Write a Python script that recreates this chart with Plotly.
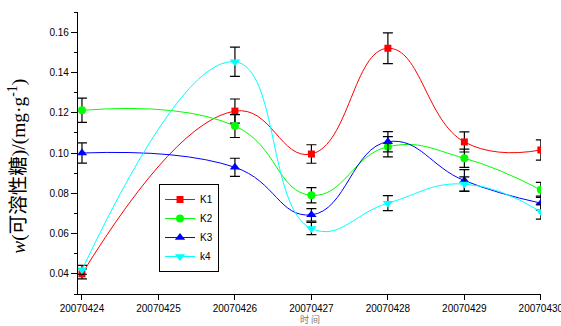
import plotly.graph_objects as go

# ---- data ----
dates = ["20070424", "20070425", "20070426", "20070427", "20070428", "20070429", "20070430"]
sample_dates = ["20070424", "20070426", "20070427", "20070428", "20070429", "20070430"]

k1 = [0.040, 0.1208, 0.0995, 0.1520, 0.1055, 0.1015]
k1_err = [0.0025, 0.0060, 0.0046, 0.0076, 0.0050, 0.0050]
k2 = [0.1212, 0.1134, 0.0790, 0.1031, 0.0974, 0.0817]
k2_err = [0.0060, 0.0057, 0.0038, 0.0050, 0.0045, 0.0037]
k3 = [0.1000, 0.0929, 0.0693, 0.1056, 0.0863, 0.0751]
k3_err = [0.0050, 0.0045, 0.0031, 0.0050, 0.0054, 0.0035]
k4 = [0.0420, 0.1453, 0.0625, 0.0751, 0.0846, 0.0709]
k4_err = [0.0022, 0.0073, 0.0030, 0.0037, 0.0035, 0.0037]

names = ["K1", "K2", "K3", "k4"]
values = [k1, k2, k3, k4]
errors = [k1_err, k2_err, k3_err, k4_err]
colors = ["#FF0000", "#00FF00", "#0000FF", "#00FFFF"]
symbols = ["square", "circle", "triangle-up", "triangle-down"]
msizes = [7, 8, 9, 9]

xpos = [dates.index(d) for d in sample_dates]

fig = go.Figure()
for name, v, e, c, s, ms in zip(names, values, errors, colors, symbols, msizes):
    fig.add_trace(go.Scatter(
        x=xpos, y=v, name=name, mode="lines+markers",
        line=dict(color=c, width=1, shape="spline", smoothing=1.3),
        marker=dict(symbol=s, size=ms, color=c),
        error_y=dict(type="data", array=e, visible=True, color="black",
                     thickness=1.2, width=5),
    ))

fig.update_layout(
    width=561, height=326,
    margin=dict(l=78, r=20, t=12, b=32, autoexpand=False),
    paper_bgcolor="white", plot_bgcolor="white",
    font=dict(family="Liberation Sans, Arial", size=10, color="black"),
    showlegend=True,
    legend=dict(x=0.175, y=0.39, xanchor="left", yanchor="top",
                bordercolor="black", borderwidth=1, bgcolor="white",
                font=dict(size=10), tracegroupgap=0, itemwidth=30,
                entrywidth=16, entrywidthmode="pixels"),
    xaxis=dict(
        range=[-0.052, 6.002], tickmode="array",
        tickvals=list(range(len(dates))), ticktext=dates,
        showgrid=False, zeroline=False, showline=True, linecolor="black",
        linewidth=1.3, ticks="outside", ticklen=5, tickwidth=1.2,
        tickcolor="black", tickfont=dict(size=10), automargin=False,
        ticklabeloverflow="allow",
    ),
    yaxis=dict(
        range=[0.03, 0.17], tickmode="array",
        tickvals=[0.04, 0.06, 0.08, 0.10, 0.12, 0.14, 0.16],
        ticktext=["0.04", "0.06", "0.08", "0.10", "0.12", "0.14", "0.16"],
        showgrid=False, zeroline=False, showline=True, linecolor="black",
        linewidth=1.3, ticks="outside", ticklen=6, tickwidth=1.2,
        tickcolor="black", tickfont=dict(size=10), automargin=False,
        minor=dict(tickvals=[0.03, 0.05, 0.07, 0.09, 0.11, 0.13, 0.15, 0.17],
                   ticks="outside", ticklen=3, tickwidth=1.2, tickcolor="black"),
    ),
    annotations=[
        dict(text="<i>w</i>(可溶性糖)/(mg·g<sup>-1</sup>)", textangle=-90,
             xref="paper", yref="paper", x=-0.13, y=0.454,
             xanchor="center", yanchor="middle", showarrow=False,
             font=dict(size=19.5, family="Liberation Serif, Noto Sans CJK SC")),
        dict(text="时 间", xref="paper", yref="paper", x=0.5, y=-0.092,
             xanchor="center", yanchor="middle", showarrow=False,
             font=dict(size=9, color="#777777", family="Noto Sans CJK SC")),
    ],
)

fig.write_html("out.html")
